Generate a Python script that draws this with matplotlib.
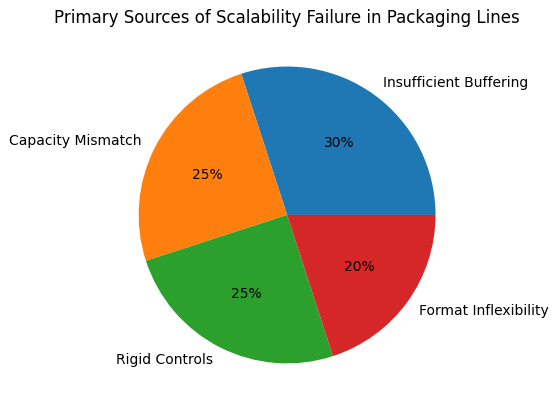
import matplotlib
matplotlib.use("Agg")
import matplotlib.pyplot as plt

labels = ["Insufficient Buffering", "Capacity Mismatch", "Rigid Controls", "Format Inflexibility"]
values = [30, 25, 25, 20]

fig = plt.figure(figsize=(5.58, 4.11), dpi=100)
ax = fig.add_axes([0.182, 0.0255, 0.665, 0.903])
ax.pie(values, labels=labels, autopct="%1.0f%%")
ax.set_aspect("equal")
fig.text(0.515, 0.955, "Primary Sources of Scalability Failure in Packaging Lines",
         ha="center", va="center", fontsize=12)
fig.savefig("out.png", dpi=100)
